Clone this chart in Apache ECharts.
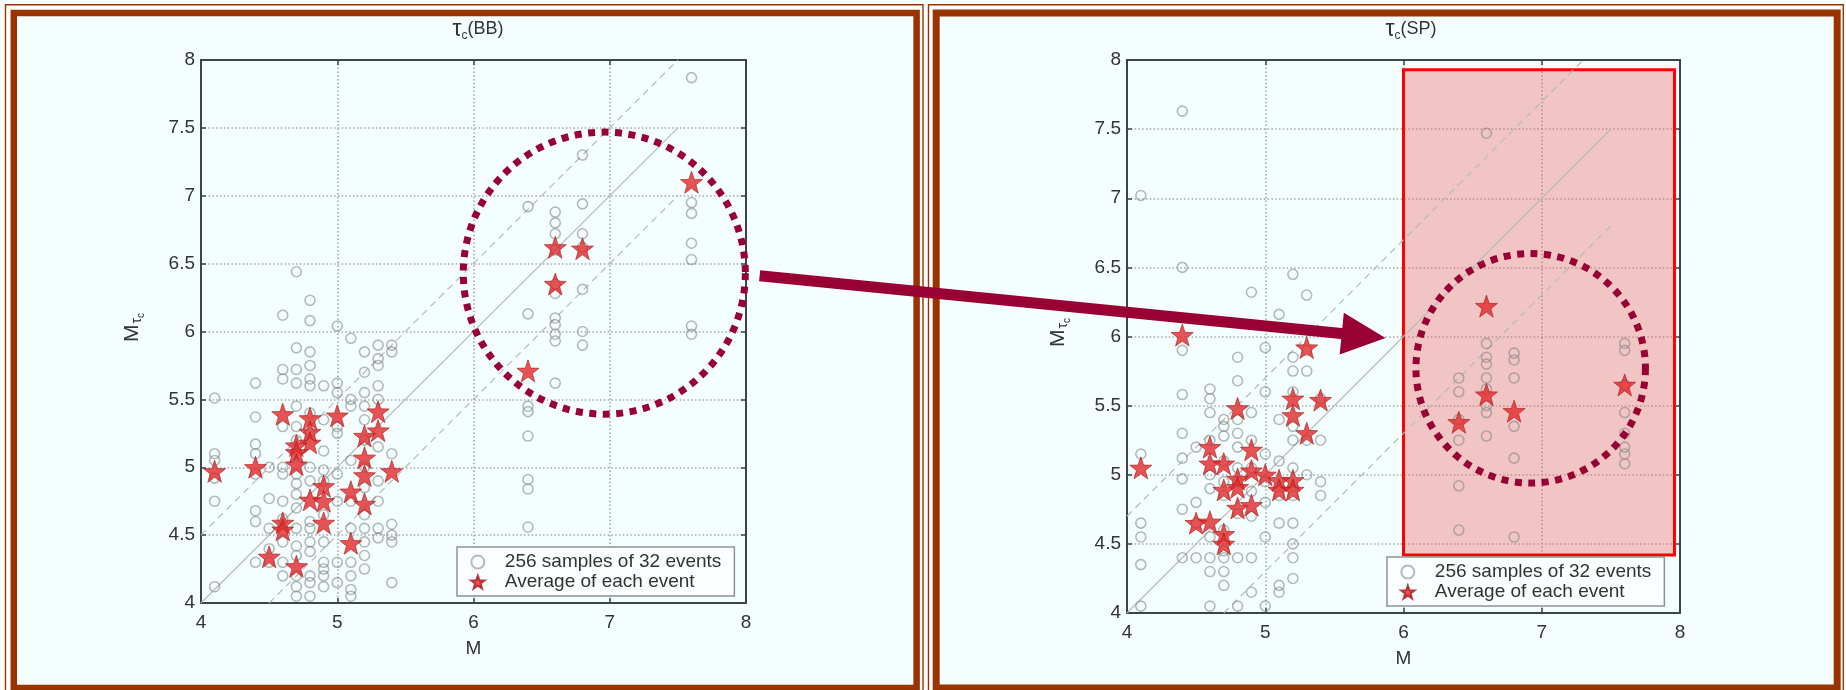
<!DOCTYPE html>
<html>
<head>
<meta charset="utf-8">
<script src="https://cdn.jsdelivr.net/npm/echarts@6/dist/echarts.min.js"></script>
<style>
  html, body { margin: 0; padding: 0; background: #ffffff; }
  #wrap { position: relative; width: 1846px; height: 690px; overflow: hidden; background: #ffffff; }
  .panel { position: absolute; background: #f5fefe; }
  #chart { position: absolute; left: 0; top: 0; width: 1846px; height: 690px; }
</style>
</head>
<body>
<div id="wrap">
  <div class="panel" style="left:17px;top:16px;width:896px;height:670px"></div>
  <div class="panel" style="left:940px;top:16px;width:895px;height:670px"></div>
  <div id="chart"></div>
</div>
<script>
// ---- axis ticks ----
const magTicks = [4, 5, 6, 7, 8];
const tauTicks = [4, 4.5, 5, 5.5, 6, 6.5, 7, 7.5, 8];

// ---- legend names ----
const SAMPLES_NAME = '256 samples of 32 events';
const AVERAGE_NAME = 'Average of each event';

// ---- τc(BB): individual samples [M, Mτc] ----
const bbSamples = [
  [4.1,5.51],[4.1,5.10],[4.1,5.05],[4.1,4.92],[4.1,4.75],[4.1,4.12],
  [4.4,5.62],[4.4,5.37],[4.4,5.17],[4.4,5.10],[4.4,4.95],[4.4,4.68],[4.4,4.60],[4.4,4.30],
  [4.5,5.00],[4.5,4.77],[4.5,4.55],[4.5,4.40],[4.5,4.30],
  [4.6,6.12],[4.6,5.72],[4.6,5.65],[4.6,5.30],[4.6,5.00],[4.6,4.95],[4.6,4.75],[4.6,4.62],[4.6,4.45],[4.6,4.30],[4.6,4.20],
  [4.7,6.44],[4.7,5.88],[4.7,5.72],[4.7,5.62],[4.7,5.45],[4.7,5.30],[4.7,5.20],[4.7,4.95],[4.7,4.88],[4.7,4.80],[4.7,4.70],[4.7,4.55],[4.7,4.42],[4.7,4.35],[4.7,4.20],[4.7,4.12],[4.7,4.05],
  [4.8,6.23],[4.8,6.08],[4.8,5.85],[4.8,5.75],[4.8,5.65],[4.8,5.60],[4.8,5.40],[4.8,5.25],[4.8,5.00],[4.8,4.90],[4.8,4.60],[4.8,4.55],[4.8,4.45],[4.8,4.38],[4.8,4.20],[4.8,4.15],[4.8,4.05],
  [4.9,5.60],[4.9,5.35],[4.9,5.12],[4.9,4.98],[4.9,4.90],[4.9,4.65],[4.9,4.45],[4.9,4.30],[4.9,4.25],[4.9,4.20],[4.9,4.12],
  [5.0,6.04],[5.0,5.62],[5.0,5.55],[5.0,5.30],[5.0,5.25],[5.0,4.95],[5.0,4.75],[5.0,4.30],[5.0,4.15],
  [5.1,5.95],[5.1,5.50],[5.1,5.45],[5.1,5.05],[5.1,4.75],[5.1,4.55],[5.1,4.30],[5.1,4.20],[5.1,4.10],[5.1,4.05],
  [5.2,5.85],[5.2,5.70],[5.2,5.55],[5.2,5.45],[5.2,5.35],[5.2,5.20],[5.2,5.00],[5.2,4.85],[5.2,4.65],[5.2,4.55],[5.2,4.45],[5.2,4.35],[5.2,4.25],
  [5.3,5.90],[5.3,5.80],[5.3,5.75],[5.3,5.60],[5.3,5.50],[5.3,5.15],[5.3,4.90],[5.3,4.75],[5.3,4.55],[5.3,4.48],
  [5.4,5.90],[5.4,5.85],[5.4,5.10],[5.4,4.58],[5.4,4.50],[5.4,4.45],[5.4,4.15],
  [6.4,6.92],[6.4,6.13],[6.4,5.45],[6.4,5.41],[6.4,5.23],[6.4,4.91],[6.4,4.84],[6.4,4.56],
  [6.6,6.88],[6.6,6.80],[6.6,6.72],[6.6,6.60],[6.6,6.35],[6.6,6.28],[6.6,6.10],[6.6,6.05],[6.6,5.98],[6.6,5.93],[6.6,5.62],
  [6.8,7.30],[6.8,6.94],[6.8,6.72],[6.8,6.62],[6.8,6.31],[6.8,6.00],[6.8,5.90],
  [7.6,7.87],[7.6,6.95],[7.6,6.87],[7.6,6.65],[7.6,6.53],[7.6,6.04],[7.6,5.98]
];

// ---- τc(BB): event averages [M, Mτc] ----
const bbAverages = [
  [4.1,4.97],[4.4,5.00],[4.6,5.39],[4.8,5.36],[5.0,5.38],[5.3,5.41],[5.3,5.27],[5.2,5.23],
  [4.8,5.26],[4.8,5.18],[4.7,5.16],[4.7,5.11],[4.7,5.02],[5.2,5.07],[5.2,4.94],[5.4,4.97],
  [5.1,4.82],[5.2,4.73],[4.9,4.86],[4.8,4.76],[4.9,4.75],[4.9,4.59],[4.6,4.59],[4.6,4.54],
  [5.1,4.44],[4.5,4.34],[4.7,4.27],[6.6,6.62],[6.8,6.61],[6.6,6.35],[7.6,7.10],[6.4,5.71]
];

// ---- τc(SP): individual samples [M, Mτc] ----
const spSamples = [
  [4.1,7.02],[4.1,5.15],[4.1,4.65],[4.1,4.55],[4.1,4.35],[4.1,4.05],
  [4.4,7.63],[4.4,6.50],[4.4,5.90],[4.4,5.58],[4.4,5.30],[4.4,5.12],[4.4,4.97],[4.4,4.75],[4.4,4.40],
  [4.5,5.20],[4.5,4.80],[4.5,4.65],[4.5,4.40],
  [4.6,5.62],[4.6,5.55],[4.6,5.45],[4.6,5.25],[4.6,5.00],[4.6,4.90],[4.6,4.55],[4.6,4.40],[4.6,4.30],[4.6,4.05],
  [4.7,5.40],[4.7,5.35],[4.7,5.28],[4.7,5.10],[4.7,4.95],[4.7,4.85],[4.7,4.60],[4.7,4.45],[4.7,4.40],[4.7,4.30],[4.7,4.20],
  [4.8,5.85],[4.8,5.68],[4.8,5.40],[4.8,5.30],[4.8,5.20],[4.8,5.05],[4.8,4.95],[4.8,4.72],[4.8,4.40],[4.8,4.05],
  [4.9,6.32],[4.9,5.45],[4.9,5.25],[4.9,5.05],[4.9,4.88],[4.9,4.70],[4.9,4.40],[4.9,4.15],
  [5.0,5.92],[5.0,5.60],[5.0,5.15],[5.0,4.95],[5.0,4.80],[5.0,4.55],[5.0,4.05],
  [5.1,6.16],[5.1,5.40],[5.1,5.10],[5.1,4.85],[5.1,4.65],[5.1,4.20],[5.1,4.15],
  [5.2,6.45],[5.2,5.85],[5.2,5.75],[5.2,5.60],[5.2,5.35],[5.2,5.25],[5.2,5.05],[5.2,4.85],[5.2,4.65],[5.2,4.50],[5.2,4.40],[5.2,4.25],
  [5.3,6.30],[5.3,5.90],[5.3,5.75],[5.3,5.25],[5.3,5.00],
  [5.4,5.55],[5.4,5.25],[5.4,4.95],[5.4,4.85],
  [6.4,5.70],[6.4,5.60],[6.4,5.40],[6.4,5.25],[6.4,4.92],[6.4,4.60],
  [6.6,7.47],[6.6,5.95],[6.6,5.85],[6.6,5.80],[6.6,5.70],[6.6,5.62],[6.6,5.50],[6.6,5.45],[6.6,5.28],
  [6.8,5.88],[6.8,5.83],[6.8,5.70],[6.8,5.35],[6.8,5.12],[6.8,4.55],
  [7.6,5.95],[7.6,5.90],[7.6,5.65],[7.6,5.45],[7.6,5.30],[7.6,5.20],[7.6,5.15],[7.6,5.08]
];

// ---- τc(SP): event averages [M, Mτc] ----
const spAverages = [
  [4.1,5.05],[4.8,5.48],[5.2,5.55],[5.4,5.54],[5.2,5.43],[5.3,5.30],[4.6,5.20],[4.9,5.18],
  [4.6,5.08],[4.7,5.08],[4.9,5.03],[4.8,4.97],[5.0,5.00],[5.1,4.96],[5.2,4.96],[5.1,4.89],
  [5.2,4.89],[4.7,4.89],[4.8,4.91],[4.8,4.76],[4.9,4.78],[4.5,4.65],[4.6,4.66],[4.7,4.57],
  [4.7,4.50],[5.3,5.92],[4.4,6.01],[6.6,6.22],[6.6,5.58],[6.8,5.46],[6.4,5.38],[7.6,5.65]
];

// ---- reference lines: 1:1 and ± bands ----
const bbOneToOne = [[4, 4], [7.5, 7.5]];
const bbUpperBand = [[4, 4.5], [7.5, 8]];
const bbLowerBand = [[4.5, 4], [7.5, 7]];
const spOneToOne = [[4, 4], [7.5, 7.5]];
const spUpperBand = [[4, 4.7], [7.3, 8]];
const spLowerBand = [[4.7, 4], [7.5, 6.8]];

// ---- highlighted region (SP panel) and annotation rings ----
const spHighlightM = [6.0, 7.96];
const spHighlightTau = [4.42, 7.93];
const bbRing = { center: [6.96, 6.43], radiusM: 1.035 };
const spRing = { center: [6.92, 5.77], radiusM: 0.83 };
const arrowFrom = [8.1, 6.41];   // in τc(BB) coordinates
const arrowTip = [5.87, 5.99];   // in τc(SP) coordinates

const STAR = 'path://M0,-50 L11.76,-16.18 L47.55,-15.45 L19.02,6.18 L29.39,40.45 L0,20 L-29.39,40.45 L-19.02,6.18 L-47.55,-15.45 L-11.76,-16.18 Z';
const FONT = 'Liberation Sans, Arial, Helvetica, sans-serif';
const AXIS_COLOR = '#3a4545';
const TEXT_COLOR = '#333';
const GRID_COLOR = '#a2a7a7';
const BRICK = '#993300';
const MAROON = '#990033';

const chart = echarts.init(document.getElementById('chart'), null, { renderer: 'canvas' });

function xAxisPair(gi) {
  return [
    {
      gridIndex: gi, type: 'value', min: magTicks[0], max: magTicks[magTicks.length - 1], interval: 1,
      position: 'bottom', name: 'M', nameLocation: 'middle', nameGap: 36,
      nameTextStyle: { color: TEXT_COLOR, fontSize: 19, fontFamily: FONT },
      axisLine: { show: true, onZero: false, lineStyle: { color: AXIS_COLOR, width: 2 } },
      axisTick: { show: true, inside: true, length: 5, lineStyle: { color: AXIS_COLOR, width: 1.5 } },
      axisLabel: { color: TEXT_COLOR, fontSize: 19, fontFamily: FONT, margin: 10 },
      splitLine: { show: true, lineStyle: { color: GRID_COLOR, width: 1.6, type: [1.5, 2.3] } }
    },
    {
      gridIndex: gi, type: 'value', min: magTicks[0], max: magTicks[magTicks.length - 1], interval: 1,
      position: 'top',
      axisLine: { show: true, onZero: false, lineStyle: { color: AXIS_COLOR, width: 2 } },
      axisTick: { show: true, inside: true, length: 5, lineStyle: { color: AXIS_COLOR, width: 1.5 } },
      axisLabel: { show: false }, splitLine: { show: false }
    }
  ];
}

function yAxisPair(gi) {
  return [
    {
      gridIndex: gi, type: 'value', min: tauTicks[0], max: tauTicks[tauTicks.length - 1], interval: 0.5,
      position: 'left',
      name: '{m|M}{t|τ}{c|c}', nameLocation: 'middle', nameRotate: 90, nameGap: 55,
      nameTextStyle: {
        color: TEXT_COLOR, fontFamily: FONT, padding: [0, 0, 0, 8],
        rich: {
          m: { fontSize: 21, fontFamily: FONT, color: TEXT_COLOR },
          t: { fontSize: 14, fontFamily: FONT, color: TEXT_COLOR, padding: [10, 0, 0, 1] },
          c: { fontSize: 10, fontFamily: FONT, color: TEXT_COLOR, padding: [17, 0, 0, 0] }
        }
      },
      axisLine: { show: true, onZero: false, lineStyle: { color: AXIS_COLOR, width: 2 } },
      axisTick: { show: true, inside: true, length: 5, lineStyle: { color: AXIS_COLOR, width: 1.5 } },
      axisLabel: { color: TEXT_COLOR, fontSize: 19, fontFamily: FONT, margin: 6, formatter: v => String(v) },
      splitLine: { show: true, lineStyle: { color: GRID_COLOR, width: 1.6, type: [1.5, 2.3] } }
    },
    {
      gridIndex: gi, type: 'value', min: tauTicks[0], max: tauTicks[tauTicks.length - 1], interval: 0.5,
      position: 'right',
      axisLine: { show: true, onZero: false, lineStyle: { color: AXIS_COLOR, width: 2 } },
      axisTick: { show: true, inside: true, length: 5, lineStyle: { color: AXIS_COLOR, width: 1.5 } },
      axisLabel: { show: false }, splitLine: { show: false }
    }
  ];
}

function guide(name, data, xi, yi, dashed) {
  return {
    type: 'line', name, xAxisIndex: xi, yAxisIndex: yi, data, symbol: 'none', silent: true, z: 1,
    lineStyle: { color: '#b6baba', width: 1.2, type: dashed ? [7, 5] : 'solid' },
    emphasis: { disabled: true }, animation: false
  };
}

function samplesSeries(data, xi, yi) {
  return {
    type: 'scatter', name: SAMPLES_NAME, xAxisIndex: xi, yAxisIndex: yi, data,
    symbol: 'circle', symbolSize: 10, z: 2,
    itemStyle: { color: 'rgba(0,0,0,0)', borderColor: 'rgba(128,134,134,0.72)', borderWidth: 1.6 },
    emphasis: { disabled: true }, animation: false
  };
}

function averageSeries(data, xi, yi) {
  return {
    type: 'scatter', name: AVERAGE_NAME, xAxisIndex: xi, yAxisIndex: yi, data,
    symbol: STAR, symbolSize: 22, z: 6,
    itemStyle: { color: '#e2282b', borderColor: '#a81a1d', borderWidth: 0.8 },
    emphasis: { disabled: true }, animation: false
  };
}

function legendBox(left, top) {
  return {
    orient: 'vertical', left, top,
    data: [SAMPLES_NAME, AVERAGE_NAME],
    itemWidth: 30, itemHeight: 13, itemGap: 0,
    padding: [5, 13, 4, 13],
    backgroundColor: '#fbfefe', borderColor: '#8c9292', borderWidth: 1.5, borderRadius: 0,
    selectedMode: false,
    textStyle: { color: TEXT_COLOR, fontSize: 19, fontFamily: FONT, lineHeight: 20, padding: [0, 0, 0, 7] }
  };
}

const titleRich = {
  t: { fontSize: 23, fontFamily: FONT, color: TEXT_COLOR, fontWeight: 'normal' },
  c: { fontSize: 12, fontFamily: FONT, color: TEXT_COLOR, fontWeight: 'normal', padding: [13, 0, 0, 0] },
  b: { fontSize: 18, fontFamily: FONT, color: TEXT_COLOR, fontWeight: 'normal' }
};

const option = {
  backgroundColor: 'transparent',
  animation: false,
  title: [
    { text: '{t|τ}{c|c}{b|(BB)}', left: 473, top: 12, textAlign: 'center', textStyle: { fontWeight: 'normal', rich: titleRich } },
    { text: '{t|τ}{c|c}{b|(SP)}', left: 1406, top: 12, textAlign: 'center', textStyle: { fontWeight: 'normal', rich: titleRich } }
  ],
  grid: [
    { left: 201, top: 60, width: 545, height: 543, show: true, backgroundColor: '#f5fefe', borderWidth: 0 },
    { left: 1127, top: 60, width: 553, height: 553, show: true, backgroundColor: '#f5fefe', borderWidth: 0 }
  ],
  xAxis: [...xAxisPair(0), ...xAxisPair(1)],
  yAxis: [...yAxisPair(0), ...yAxisPair(1)],
  legend: [legendBox(457, 547), legendBox(1387, 557)],
  series: [
    guide('bb-1:1', bbOneToOne, 0, 0, false),
    guide('bb-upper', bbUpperBand, 0, 0, true),
    guide('bb-lower', bbLowerBand, 0, 0, true),
    samplesSeries(bbSamples, 0, 0),
    averageSeries(bbAverages, 0, 0),

    guide('sp-1:1', spOneToOne, 2, 2, false),
    guide('sp-upper', spUpperBand, 2, 2, true),
    guide('sp-lower', spLowerBand, 2, 2, true),
    samplesSeries(spSamples, 2, 2),
    {
      type: 'scatter', name: 'sp-highlight', xAxisIndex: 2, yAxisIndex: 2, data: [], z: 4, silent: true,
      markArea: {
        silent: true,
        itemStyle: { color: 'rgba(238,96,96,0.36)', borderColor: '#ff0000', borderWidth: 3 },
        data: [[{ coord: [spHighlightM[0], spHighlightTau[1]] }, { coord: [spHighlightM[1], spHighlightTau[0]] }]]
      }
    },
    averageSeries(spAverages, 2, 2)
  ]
};

chart.setOption(option);

// ---- frames, rings and arrow placed from axis coordinates ----
const px = (gi, p) => chart.convertToPixel({ gridIndex: gi }, p);

function ring(gi, r) {
  const c = px(gi, r.center);
  const e = px(gi, [r.center[0] + r.radiusM, r.center[1]]);
  return {
    type: 'circle', z: 100,
    shape: { cx: c[0], cy: c[1], r: e[0] - c[0] },
    style: { fill: null, stroke: MAROON, lineWidth: 7, lineDash: [7, 6.5] },
    silent: true
  };
}

const a0 = px(0, arrowFrom);
const a1 = px(1, arrowTip);
const dx = a1[0] - a0[0], dy = a1[1] - a0[1];
const len = Math.hypot(dx, dy), ux = dx / len, uy = dy / len;
const headLen = 44, headHalf = 21;
const base = [a1[0] - ux * headLen, a1[1] - uy * headLen];

const frame = (x, y, w, h, lw) => ({
  type: 'rect', z: 90, silent: true,
  shape: { x, y, width: w, height: h },
  style: { fill: null, stroke: BRICK, lineWidth: lw }
});

chart.setOption({
  graphic: [
    frame(5.5, 4.7, 917.5, 720, 1.4),
    frame(13.8, 13, 902.8, 675, 6.5),
    frame(928.5, 4.7, 914.8, 720, 1.4),
    frame(936.2, 13, 901, 675, 7),
    ring(0, bbRing),
    ring(1, spRing),
    {
      type: 'line', z: 101, silent: true,
      shape: { x1: a0[0], y1: a0[1], x2: base[0] + ux * 2, y2: base[1] + uy * 2 },
      style: { stroke: MAROON, lineWidth: 11 }
    },
    {
      type: 'polygon', z: 101, silent: true,
      shape: { points: [
        [a1[0], a1[1]],
        [base[0] - uy * headHalf, base[1] + ux * headHalf],
        [base[0] + uy * headHalf, base[1] - ux * headHalf]
      ] },
      style: { fill: MAROON }
    }
  ]
});
</script>
</body>
</html>
